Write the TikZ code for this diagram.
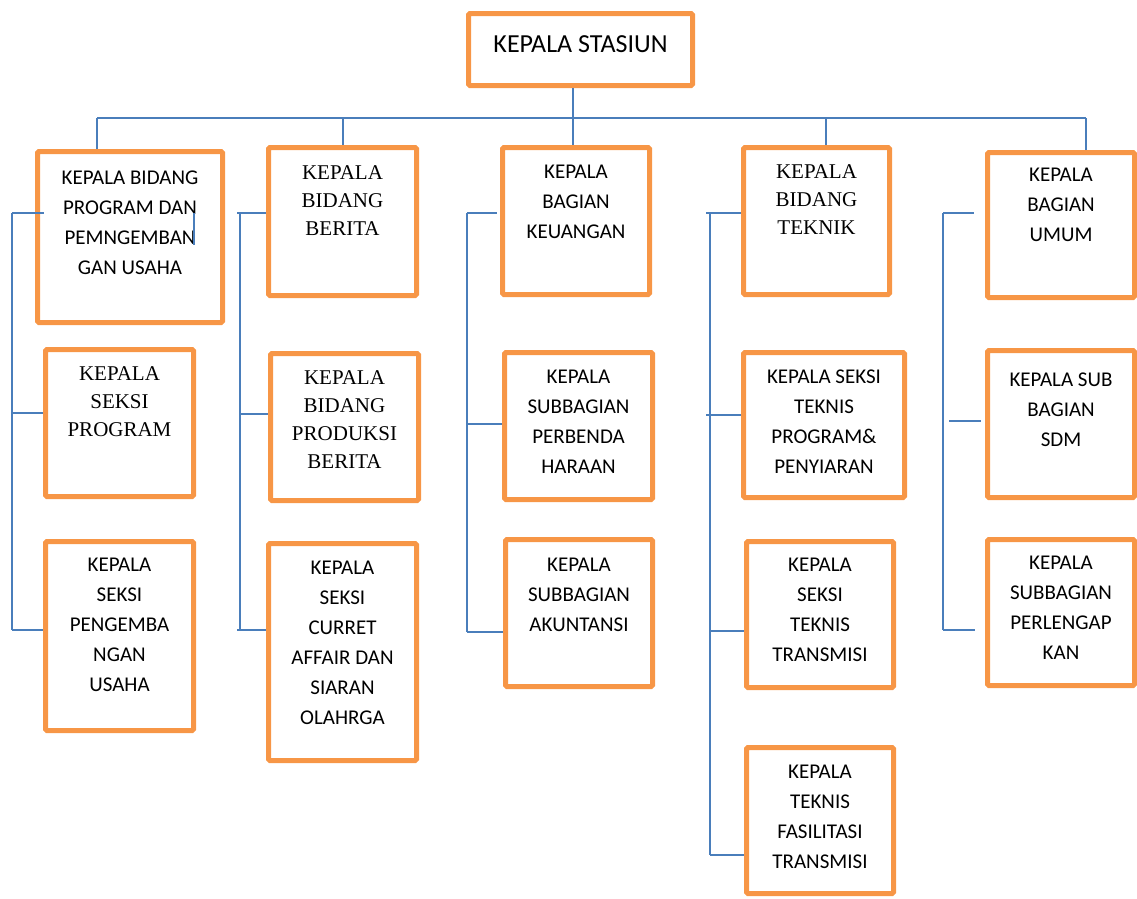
\documentclass[tikz,border=0pt]{standalone}
\usepackage{fontspec}
\setmainfont{Carlito}
\newfontfamily\timesfont{Liberation Serif}
\usetikzlibrary{positioning}
\definecolor{boxorange}{HTML}{F79646}
\definecolor{lineblue}{HTML}{4A7EBB}
\tikzstyle{unit} = [rectangle, anchor=north west, inner sep=0pt, draw=boxorange, line width=5pt, rounded corners=1.5pt]
\tikzstyle{cal} = [align=center, inner sep=0pt, font=\fontsize{21}{30}\selectfont]
\tikzstyle{tnr} = [align=center, inner sep=0pt, font=\timesfont\fontsize{21}{28}\selectfont]
\tikzstyle{link} = [draw=lineblue, line width=1.6pt]

\begin{document}
\begin{tikzpicture}[x=1pt, y=-1pt]
    \useasboundingbox (0,0) rectangle (1137,898);

    \node (kepala) [unit, minimum width=224pt, minimum height=72pt] at (466,11) {};
    \node (kepalatxt) [cal, font=\fontsize{26}{30}\selectfont, below=24pt of kepala.north] {KEPALA STASIUN};

    \node (prog) [unit, minimum width=185pt, minimum height=171pt] at (35,149) {};
    \node (seksiprog) [unit, minimum width=148pt, minimum height=147pt] at (43,347) {};
    \node (seksiusaha) [unit, minimum width=148pt, minimum height=189pt] at (43,539) {};
    \node (progtxt) [cal, below=22pt of prog.north] {KEPALA BIDANG\\PROGRAM DAN\\PEMNGEMBAN\\GAN USAHA};
    \node (seksiprogtxt) [tnr, below=19pt of seksiprog.north] {KEPALA\\SEKSI\\PROGRAM};
    \node (seksiusahatxt) [cal, below=19pt of seksiusaha.north] {KEPALA\\SEKSI\\PENGEMBA\\NGAN\\USAHA};

    \node (berita) [unit, minimum width=148pt, minimum height=148pt] at (266,145) {};
    \node (produksi) [unit, minimum width=148pt, minimum height=147pt] at (268,351) {};
    \node (curret) [unit, minimum width=148pt, minimum height=217pt] at (266,541) {};
    \node (beritatxt) [tnr, below=20pt of berita.north] {KEPALA\\BIDANG\\BERITA};
    \node (produksitxt) [tnr, below=19pt of produksi.north] {KEPALA\\BIDANG\\PRODUKSI\\BERITA};
    \node (curretxt) [cal, below=20pt of curret.north] {KEPALA\\SEKSI\\CURRET\\AFFAIR DAN\\SIARAN\\OLAHRGA};

    \node (keuangan) [unit, minimum width=147pt, minimum height=147pt] at (500,145) {};
    \node (perbenda) [unit, minimum width=148pt, minimum height=147pt] at (502,350) {};
    \node (akuntansi) [unit, minimum width=147pt, minimum height=147pt] at (503,537) {};
    \node (keuangantxt) [cal, below=20pt of keuangan.north] {KEPALA\\BAGIAN\\KEUANGAN};
    \node (perbendatxt) [cal, below=20pt of perbenda.north] {KEPALA\\SUBBAGIAN\\PERBENDA\\HARAAN};
    \node (akuntansitxt) [cal, below=21pt of akuntansi.north] {KEPALA\\SUBBAGIAN\\AKUNTANSI};

    \node (teknik) [unit, minimum width=146pt, minimum height=147pt] at (741,145) {};
    \node (penyiaran) [unit, minimum width=161pt, minimum height=145pt] at (741,350) {};
    \node (transmisi) [unit, minimum width=147pt, minimum height=146pt] at (744,539) {};
    \node (fasilitasi) [unit, minimum width=147pt, minimum height=146pt] at (744,745) {};
    \node (tekniktxt) [tnr, below=19pt of teknik.north] {KEPALA\\BIDANG\\TEKNIK};
    \node (penyiarantxt) [cal, below=20pt of penyiaran.north] {KEPALA SEKSI\\TEKNIS\\PROGRAM\&\\PENYIARAN};
    \node (transmisitxt) [cal, below=19pt of transmisi.north] {KEPALA\\SEKSI\\TEKNIS\\TRANSMISI};
    \node (fasilitasitxt) [cal, below=20pt of fasilitasi.north] {KEPALA\\TEKNIS\\FASILITASI\\TRANSMISI};

    \node (umum) [unit, minimum width=147pt, minimum height=145pt] at (985,150) {};
    \node (sdm) [unit, minimum width=147pt, minimum height=147pt] at (985,348) {};
    \node (perlengkapan) [unit, minimum width=147pt, minimum height=146pt] at (985,537) {};
    \node (umumtxt) [cal, below=18pt of umum.north] {KEPALA\\BAGIAN\\UMUM};
    \node (sdmtxt) [cal, below=25pt of sdm.north] {KEPALA SUB\\BAGIAN\\SDM};
    \node (perlengkapantxt) [cal, below=19pt of perlengkapan.north] {KEPALA\\SUBBAGIAN\\PERLENGAP\\KAN};

    \coordinate (bus1) at (97,118);
    \coordinate (bus2) at (343,118);
    \coordinate (bus3) at (573,118);
    \coordinate (bus4) at (826,118);
    \coordinate (bus5) at (1086,118);
    \draw [link] (bus1) -- (bus5);
    \draw [link] (kepala.south -| bus3) -- (bus3 |- keuangan.north);
    \draw [link] (bus1) -- (bus1 |- prog.north);
    \draw [link] (bus2) -- (bus2 |- berita.north);
    \draw [link] (bus4) -- (bus4 |- teknik.north);
    \draw [link] (bus5) -- (bus5 |- umum.north);

    \coordinate (rail1a) at (12,213);
    \coordinate (rail1b) at (12,413);
    \coordinate (rail1c) at (12,630);
    \draw [link] (rail1a) -- (rail1c);
    \draw [link] (rail1a) -- ([xshift=9pt]rail1a -| prog.west);
    \draw [link] (rail1b) -- (rail1b -| seksiprog.west);
    \draw [link] (rail1c) -- (rail1c -| seksiusaha.west);
    \draw [link] (prog.north west) ++(159,64) -- ++(0,32);

    \coordinate (rail2a) at (240,213);
    \coordinate (rail2b) at (240,414);
    \coordinate (rail2c) at (240,630);
    \draw [link] (rail2a) -- (rail2c);
    \draw [link] ([xshift=-3pt]rail2a) -- (rail2a -| berita.west);
    \draw [link] (rail2b) -- (rail2b -| produksi.west);
    \draw [link] ([xshift=-3pt]rail2c) -- (rail2c -| curret.west);

    \coordinate (rail3a) at (467,213);
    \coordinate (rail3b) at (467,424);
    \coordinate (rail3c) at (467,632);
    \draw [link] (rail3a) -- (rail3c);
    \draw [link] (rail3a) -- ++(30,0);
    \draw [link] (rail3b) -- (rail3b -| perbenda.west);
    \draw [link] (rail3c) -- (rail3c -| akuntansi.west);

    \coordinate (rail4a) at (710,213);
    \coordinate (rail4b) at (710,415);
    \coordinate (rail4c) at (710,631);
    \coordinate (rail4d) at (710,855);
    \draw [link] (rail4a) -- (rail4d);
    \draw [link] ([xshift=-4pt]rail4a) -- (rail4a -| teknik.west);
    \draw [link] ([xshift=-4pt]rail4b) -- (rail4b -| penyiaran.west);
    \draw [link] (rail4c) -- (rail4c -| transmisi.west);
    \draw [link] (rail4d) -- (rail4d -| fasilitasi.west);

    \coordinate (rail5a) at (943,213);
    \coordinate (rail5b) at (949,421);
    \coordinate (rail5c) at (943,630);
    \draw [link] (rail5a) -- (rail5c);
    \draw [link] (rail5a) -- ++(31,0);
    \draw [link] (rail5b) -- ++(32,0);
    \draw [link] (rail5c) -- ++(32,0);
\end{tikzpicture}
\end{document}
